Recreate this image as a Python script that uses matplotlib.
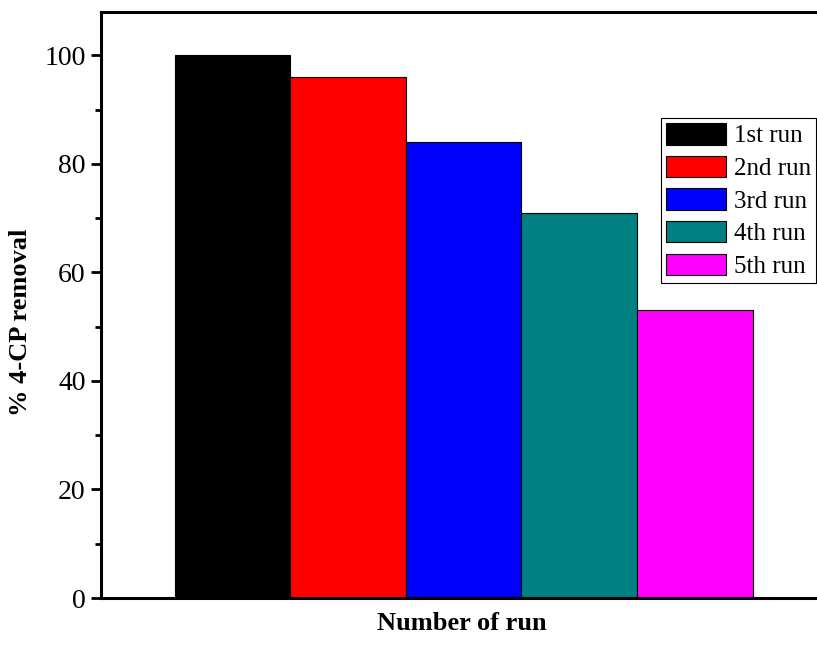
import matplotlib.pyplot as plt
from matplotlib.ticker import MultipleLocator

# -------------------- Data --------------------
runs = ["1st run", "2nd run", "3rd run", "4th run", "5th run"]
removal = [100, 96, 84, 71, 53]
colors = ["#000000", "#ff0000", "#0000ff", "#008080", "#ff00ff"]

plt.rcParams.update({
    "font.family": ["Liberation Serif", "DejaVu Serif"],
    "font.size": 19,
})

fig = plt.figure(figsize=(8.17, 6.47), dpi=100)
ax = fig.add_axes([101 / 817, 49 / 647, 722 / 817, 586 / 647])

positions = range(1, len(runs) + 1)
for x, v, c, lab in zip(positions, removal, colors, runs):
    ax.bar(x, v, width=1.0, color=c, edgecolor="black", linewidth=0.8,
           label=lab, zorder=2)

ax.set_xlim(-0.14, 6.11)
ax.set_ylim(0, 108)

ax.yaxis.set_major_locator(MultipleLocator(20))
ax.yaxis.set_minor_locator(MultipleLocator(10))
ax.tick_params(axis="y", which="major", direction="out", length=7, width=2,
               labelsize=20, pad=4)
ax.tick_params(axis="y", which="minor", direction="out", length=4, width=2)
ax.set_xticks([])

for side in ["left", "bottom", "top"]:
    ax.spines[side].set_linewidth(2.2)
ax.spines["right"].set_visible(False)  # cropped off in the original

ax.set_ylabel("% 4-CP removal", fontweight="bold", fontsize=19)
ax.yaxis.set_label_coords(-0.095, 0.47)
ax.set_xlabel("Number of run", fontweight="bold", fontsize=19, labelpad=10)

# legend sits in the upper right, flush with the cropped edge
leg = ax.legend(loc="upper right", bbox_to_anchor=(816 / 817, 1 - 118 / 647),
                bbox_transform=fig.transFigure, borderaxespad=0,
                fancybox=False, edgecolor="black", framealpha=1,
                handlelength=2.4, handleheight=0.95, handletextpad=0.3,
                labelspacing=0.33, borderpad=0.2, fontsize=18)
leg.get_frame().set_linewidth(0.8)

fig.savefig("out.png", dpi=100)
